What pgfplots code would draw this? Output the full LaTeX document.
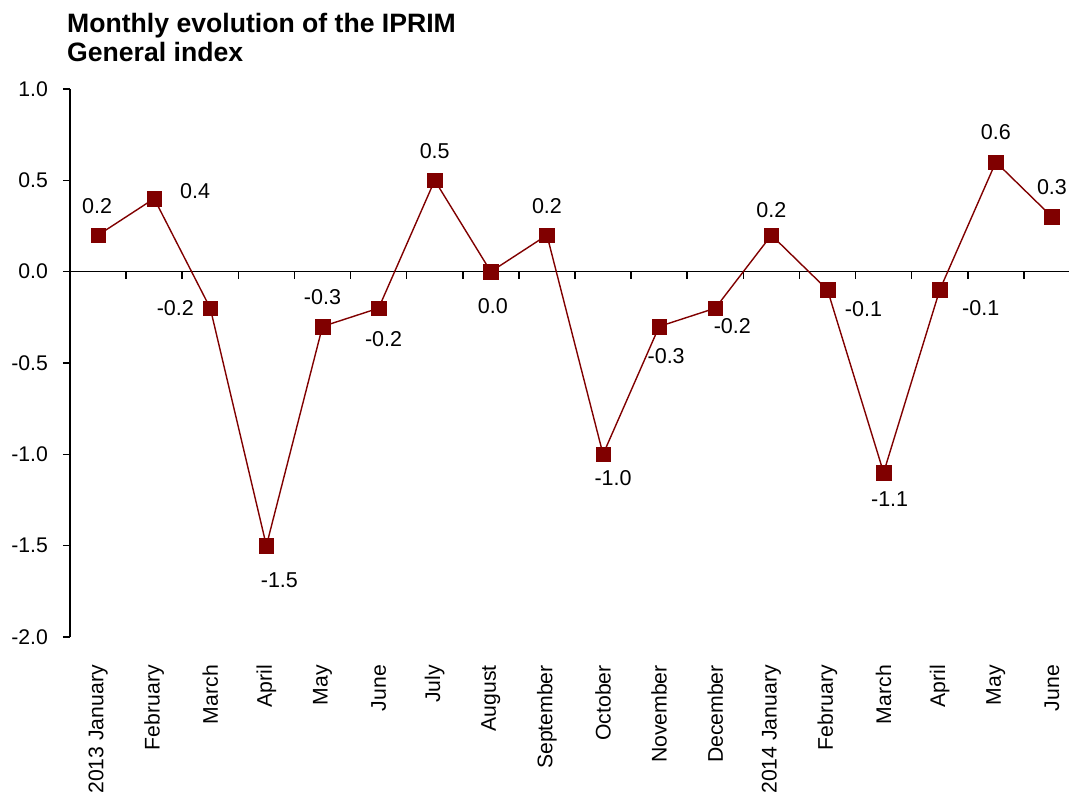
\documentclass[border=0pt]{standalone}
\usepackage{fontspec}
\setmainfont{Liberation Sans}
\usepackage{pgfplots}
\pgfplotsset{compat=1.18}
\definecolor{dred}{HTML}{800000}
\begin{document}
\begin{tikzpicture}[x=1pt,y=1pt]
\useasboundingbox (-70,-157) rectangle (999,637);
\begin{axis}[at={(0,0)}, anchor=south west, scale only axis,
  width=1010pt, height=548pt,
  xmin=-0.5, xmax=17.5, ymin=-2, ymax=1,
  clip=false,
  axis y line*=left, axis x line*=bottom,
  x axis line style={draw=none},
  y axis line style={line width=1.6pt},
  ytick={-2,-1.5,-1,-0.5,0,0.5,1},
  yticklabels={-2.0,-1.5,-1.0,-0.5,0.0,0.5,1.0},
  ytick style={line width=1.6pt, black},
  tick align=outside,
  major tick length=7pt,
  xtick={0,...,17},
  xtick style={draw=none},
  xticklabels={2013 January,February,March,April,May,June,July,August,September,October,November,December,2014 January,February,March,April,May,June},
  xticklabel style={rotate=90, anchor=east, inner sep=0pt},
  xticklabel shift=21pt,
  yticklabel style={anchor=east, inner sep=0pt},
  yticklabel shift=15pt,
  every tick label/.append style={font=\fontsize{21.2}{26}\selectfont},
]
\draw[line width=1.6pt] (axis cs:-0.5,0) -- (axis cs:17.5,0);
\pgfplotsinvokeforeach{0.5,1.5,2.5,3.5,4.5,5.5,6.5,7.5,8.5,9.5,10.5,11.5,12.5,13.5,14.5,15.5,16.5}{
  \draw[line width=1.6pt] (axis cs:#1,0) -- ++(0pt,-7pt);
}
\addplot[color=dred, line width=1.4pt, mark=square*, mark size=7.3pt,
  mark options={solid, fill=dred, line width=0.4pt}]
  coordinates {(0,0.2)(1,0.4)(2,-0.2)(3,-1.5)(4,-0.3)(5,-0.2)(6,0.5)(7,0.0)(8,0.2)(9,-1.0)(10,-0.3)(11,-0.2)(12,0.2)(13,-0.1)(14,-1.1)(15,-0.1)(16,0.6)(17,0.3)};
\begin{scope}[every node/.style={font=\fontsize{21.5}{26}\selectfont, inner sep=0pt}]
\node at ([xshift=-1pt,yshift=29pt]axis cs:0,0.2) {0.2};
\node at ([xshift=41pt,yshift=7pt]axis cs:1,0.4) {0.4};
\node at ([xshift=-35pt,yshift=0pt]axis cs:2,-0.2) {-0.2};
\node at ([xshift=13pt,yshift=-35pt]axis cs:3,-1.5) {-1.5};
\node at ([xshift=0pt,yshift=29pt]axis cs:4,-0.3) {-0.3};
\node at ([xshift=5pt,yshift=-31pt]axis cs:5,-0.2) {-0.2};
\node at ([xshift=0pt,yshift=29pt]axis cs:6,0.5) {0.5};
\node at ([xshift=2pt,yshift=-34pt]axis cs:7,0.0) {0.0};
\node at ([xshift=0pt,yshift=29pt]axis cs:8,0.2) {0.2};
\node at ([xshift=10pt,yshift=-24pt]axis cs:9,-1.0) {-1.0};
\node at ([xshift=7pt,yshift=-30pt]axis cs:10,-0.3) {-0.3};
\node at ([xshift=17pt,yshift=-18pt]axis cs:11,-0.2) {-0.2};
\node at ([xshift=0pt,yshift=25pt]axis cs:12,0.2) {0.2};
\node at ([xshift=36pt,yshift=-19pt]axis cs:13,-0.1) {-0.1};
\node at ([xshift=6pt,yshift=-27pt]axis cs:14,-1.1) {-1.1};
\node at ([xshift=41pt,yshift=-18pt]axis cs:15,-0.1) {-0.1};
\node at ([xshift=0pt,yshift=30pt]axis cs:16,0.6) {0.6};
\node at ([xshift=0pt,yshift=30pt]axis cs:17,0.3) {0.3};
\end{scope}
\end{axis}
\node[anchor=base west, inner sep=0pt, font=\fontsize{26.6}{30}\bfseries\selectfont] at (-3,604) {Monthly evolution of the IPRIM};
\node[anchor=base west, inner sep=0pt, font=\fontsize{26.6}{30}\bfseries\selectfont] at (-3,575) {General index};
\end{tikzpicture}
\end{document}
